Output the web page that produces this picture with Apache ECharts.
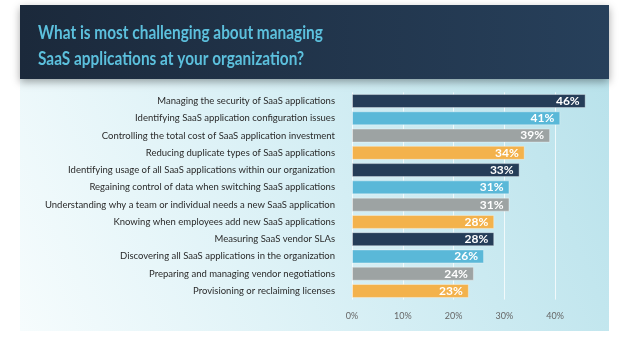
<!DOCTYPE html>
<html><head><meta charset="utf-8">
<script src="https://cdn.jsdelivr.net/npm/echarts@6/dist/echarts.min.js"></script>
<style>html,body{margin:0;padding:0;background:#fff}#c{width:624px;height:344px}</style>
</head><body><div id="c"></div>
<script>
const titleLines = ['What is most challenging about managing', 'SaaS applications at your organization?'];
const categories = [
  'Managing the security of SaaS applications',
  'Identifying SaaS application configuration issues',
  'Controlling the total cost of SaaS application investment',
  'Reducing duplicate types of SaaS applications',
  'Identifying usage of all SaaS applications within our organization',
  'Regaining control of data when switching SaaS applications',
  'Understanding why a team or individual needs a new SaaS application',
  'Knowing when employees add new SaaS applications',
  'Measuring SaaS vendor SLAs',
  'Discovering all SaaS applications in the organization',
  'Preparing and managing vendor negotiations',
  'Provisioning or reclaiming licenses'
];
const values = [46, 41, 39, 34, 33, 31, 31, 28, 28, 26, 24, 23];
const tickValues = [0, 10, 20, 30, 40];
const palette = ['#253d58', '#5ab8d8', '#9da3a3', '#f3b24c'];

const chart = echarts.init(document.getElementById('c'), null, {renderer: 'canvas'});
chart.setOption({
  animation: false,
  graphic: [
    {type: 'rect', z: -10, shape: {x: 20, y: 79, width: 589, height: 252},
     style: {fill: new echarts.graphic.LinearGradient(0, 1, 1, 0, [
       {offset: 0, color: '#f6fcfd'}, {offset: 0.55, color: '#d4eef4'}, {offset: 1, color: '#b9e2eb'}])}},
    {type: 'rect', z: -5, shape: {x: 20, y: 5, width: 589, height: 74},
     style: {fill: new echarts.graphic.LinearGradient(0, 0, 1, 0, [
       {offset: 0, color: '#1b293b'}, {offset: 1, color: '#27405b'}]),
       shadowBlur: 8, shadowOffsetY: 3, shadowColor: 'rgba(0,0,0,0.35)'}},
    {type: 'text', z: 10, x: 38, y: 19.5, scaleX: 0.81, scaleY: 1,
     style: {text: titleLines.join('\n'), fill: '#5cc0dd', font: 'bold 19px Lato', lineHeight: 26}}
  ],
  grid: {left: 352, right: 18, top: 92.4, bottom: 44.4, containLabel: false},
  xAxis: {
    type: 'value', min: 0, max: 50, interval: 10,
    axisLine: {show: false}, axisTick: {show: false},
    splitLine: {show: true, showMaxLine: false, lineStyle: {color: 'rgba(255,255,255,0.75)', width: 1}},
    axisLabel: {showMaxLabel: false, formatter: v => tickValues.includes(v) ? v + '%' : '',
      color: '#666', fontSize: 9, fontFamily: 'Lato', margin: 12}
  },
  yAxis: {
    type: 'category', data: categories, inverse: true,
    axisLine: {show: false}, axisTick: {show: false},
    axisLabel: {color: '#2a2a2a', fontSize: 9.5, fontFamily: 'Lato', margin: 17}
  },
  series: [{
    type: 'bar', data: values.map((v, i) => ({value: v, itemStyle: {color: palette[i % 4]}})),
    barCategoryGap: '19%',
    itemStyle: {borderColor: 'rgba(255,255,255,0.35)', borderWidth: 1},
    label: {show: true, position: 'insideRight', offset: [-1, 0], formatter: '{c}%',
      color: '#fff', fontWeight: 'bold', fontSize: 12, fontFamily: 'Lato'}
  }]
});
</script></body></html>
